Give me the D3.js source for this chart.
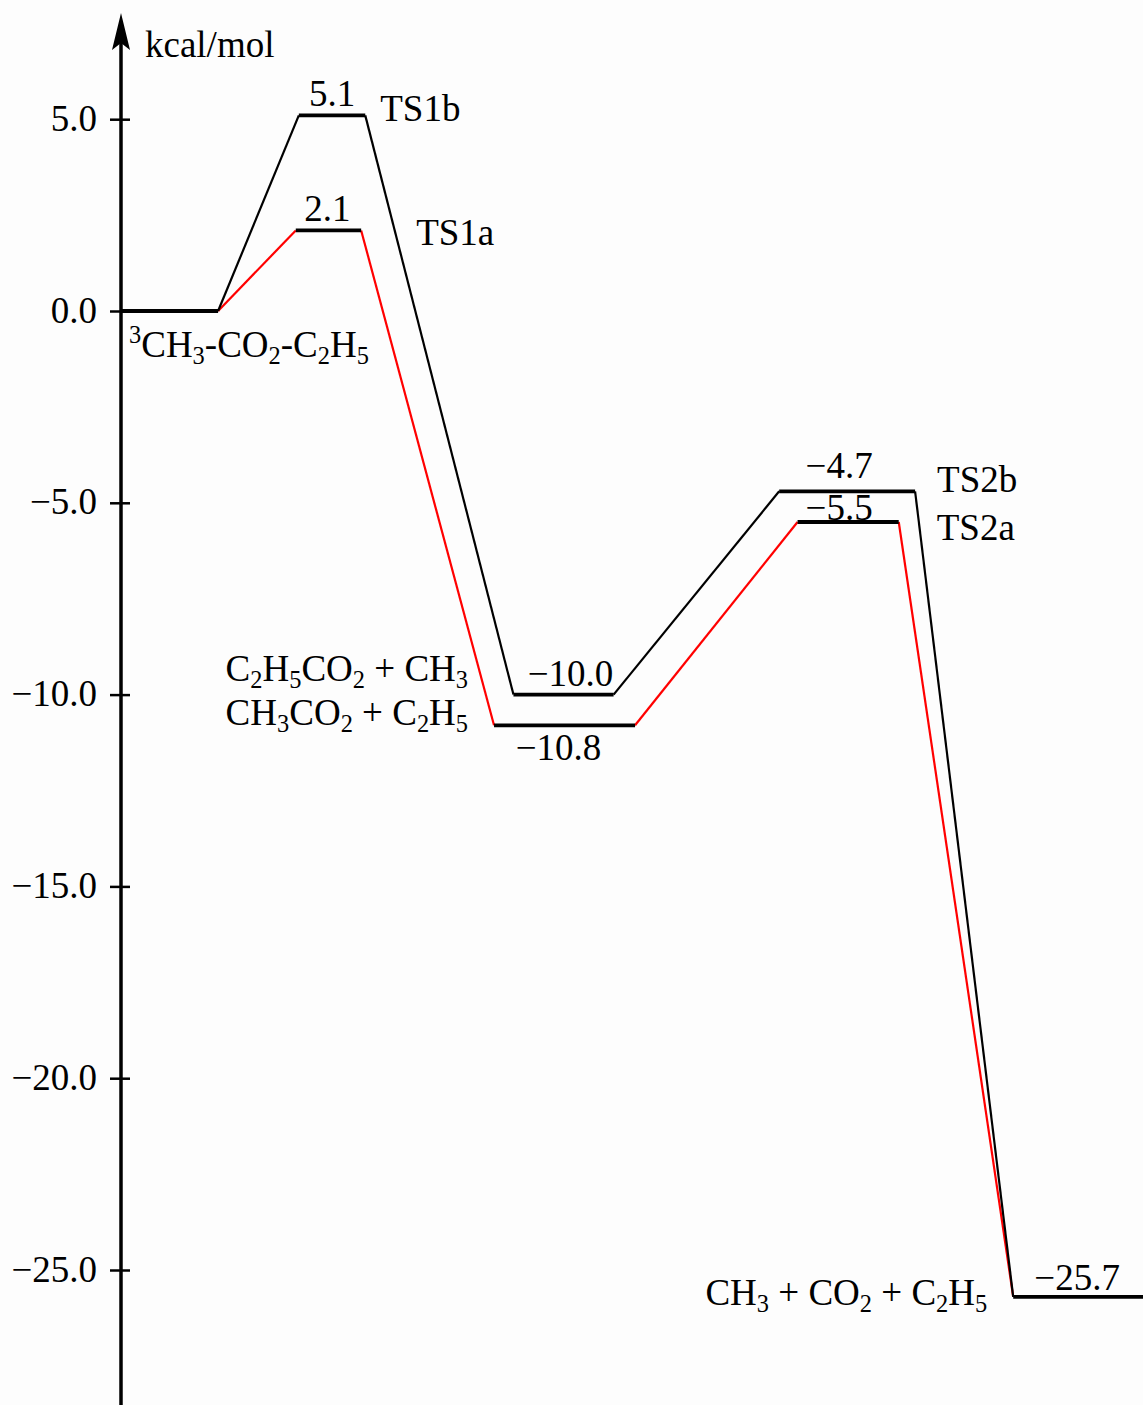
<!DOCTYPE html>
<html>
<head>
<meta charset="utf-8">
<script src="https://cdn.jsdelivr.net/npm/d3@7"></script>
<style>
  html, body { margin: 0; padding: 0; background: #fdfdfd; }
  svg { display: block; }
  text { font-family: "Liberation Serif", "Times New Roman", serif; fill: #000; }
</style>
</head>
<body>
<svg id="chart" width="1143" height="1405"></svg>
<script>
// Relative energies (kcal/mol) of the stationary points along each pathway
const stageNames = ["reactant", "TS1", "intermediate", "TS2", "products"];
const pathAEnergy = [0.0, 2.1, -10.8, -5.5, -25.7];
const pathBEnergy = [0.0, 5.1, -10.0, -4.7, -25.7];

// Horizontal extent of each level along the reaction coordinate (0–100)
const pathAStart = [0, 17.1, 36.5, 66.2, 87.3];
const pathAEnd   = [9.5, 23.5, 50.3, 76.1, 100];
const pathBStart = [0, 17.4, 38.4, 64.4, 87.3];
const pathBEnd   = [9.5, 23.9, 48.2, 77.7, 100];

// Energy axis ticks
const yTicks = [5, 0, -5, -10, -15, -20, -25];
const yUnit = "kcal/mol";

// Species and transition-state names (_ = subscript, ^ = superscript)
const reactantLabel = "^3CH_3-CO_2-C_2H_5";
const intermediateLabelB = "C_2H_5CO_2 + CH_3";
const intermediateLabelA = "CH_3CO_2 + C_2H_5";
const productLabel = "CH_3 + CO_2 + C_2H_5";
const tsLabelsA = ["TS1a", "TS2a"];
const tsLabelsB = ["TS1b", "TS2b"];

const svg = d3.select("#chart");
const FS = 37;

const y = d3.scaleLinear().domain([0, -25]).range([311, 1270]);
const x = d3.scaleLinear().domain([0, 100]).range([121, 1143]);
const fmt = d3.format(".1f");

// Writes chemical formula text with sub/superscripts as tspans
function formula(textSel, str) {
  let shift = 0;
  let i = 0;
  let buf = "";
  const flush = () => {
    if (buf) { textSel.append("tspan").attr("dy", -shift).text(buf); shift = 0; buf = ""; }
  };
  while (i < str.length) {
    const c = str[i];
    if (c === "_" || c === "^") {
      flush();
      const d = c === "_" ? 7 : -14;
      textSel.append("tspan")
        .attr("dy", d - shift)
        .attr("font-size", FS * 0.66)
        .text(str[i + 1]);
      shift = d;
      i += 2;
    } else {
      buf += c;
      i += 1;
    }
  }
  flush();
}

// Axis
const axis = d3.axisLeft(y).tickValues(yTicks).tickFormat(fmt).tickSize(0);
const gAxis = svg.append("g").attr("transform", `translate(${x(0)},0)`).call(axis);
gAxis.select(".domain").remove();
gAxis.selectAll(".tick line")
  .attr("x1", -11).attr("x2", 9)
  .attr("stroke", "#000").attr("stroke-width", 2.5);
gAxis.selectAll(".tick text")
  .attr("x", -24)
  .attr("dy", "0.3em")
  .attr("font-size", FS)
  .attr("font-family", "Liberation Serif, serif")
  .attr("fill", "#000");

svg.append("line")
  .attr("x1", x(0)).attr("x2", x(0))
  .attr("y1", 1405).attr("y2", 40)
  .attr("stroke", "#000").attr("stroke-width", 3.5);
svg.append("path")
  .attr("d", d3.line()([[x(0), 13], [x(0) + 9, 50], [x(0), 43], [x(0) - 9, 50]]) + "Z")
  .attr("fill", "#000");

svg.append("text")
  .attr("x", x(0) + 24).attr("y", 57)
  .attr("font-size", FS)
  .text(yUnit);

// Build the level and connector geometry for one pathway
function pathway(energy, start, end) {
  return energy.map((e, i) => ({ name: stageNames[i], e, x0: start[i], x1: end[i] }));
}
const levelsA = pathway(pathAEnergy, pathAStart, pathAEnd);
const levelsB = pathway(pathBEnergy, pathBStart, pathBEnd);

function connectors(levels) {
  return d3.pairs(levels).map(([a, b]) => [[x(a.x1), y(a.e)], [x(b.x0), y(b.e)]]);
}

const line = d3.line();
svg.append("g").selectAll("path").data(connectors(levelsA)).join("path")
  .attr("d", line).attr("fill", "none")
  .attr("stroke", "#ff0000").attr("stroke-width", 2.2);
svg.append("g").selectAll("path").data(connectors(levelsB)).join("path")
  .attr("d", line).attr("fill", "none")
  .attr("stroke", "#000").attr("stroke-width", 2.2);

const allLevels = levelsA.concat(levelsB.slice(1, 4));
svg.append("g").selectAll("line").data(allLevels).join("line")
  .attr("x1", d => x(d.x0)).attr("x2", d => x(d.x1))
  .attr("y1", d => y(d.e)).attr("y2", d => y(d.e))
  .attr("stroke", "#000").attr("stroke-width", 3.8);

// Energy labels: [level, horizontal nudge, vertical offset from level]
const valueLabels = [
  [levelsB[1], 0, -9],
  [levelsA[1], -1, -9],
  [levelsB[2], 7, -9],
  [levelsA[2], -6, 35],
  [levelsB[3], -8, -13],
  [levelsA[3], -9, -2],
  [levelsA[4], -1, -7]
];
svg.append("g").selectAll("text").data(valueLabels).join("text")
  .attr("x", d => (x(d[0].x0) + x(d[0].x1)) / 2 + d[1])
  .attr("y", d => y(d[0].e) + d[2])
  .attr("text-anchor", "middle")
  .attr("font-size", FS)
  .text(d => fmt(d[0].e));

// Transition-state names to the right of each TS level
const tsText = [
  [tsLabelsB[0], levelsB[1], 15, 6],
  [tsLabelsA[0], levelsA[1], 55, 15],
  [tsLabelsB[1], levelsB[3], 22, 1],
  [tsLabelsA[1], levelsA[3], 38, 18]
];
svg.append("g").selectAll("text").data(tsText).join("text")
  .attr("x", d => x(d[1].x1) + d[2])
  .attr("y", d => y(d[1].e) + d[3])
  .attr("font-size", FS)
  .text(d => d[0]);

// Species names
const species = [
  [reactantLabel, x(levelsA[0].x0) + 8, y(levelsA[0].e) + 46, "start"],
  [intermediateLabelB, x(levelsA[2].x0) - 26, y(levelsB[2].e) - 14, "end"],
  [intermediateLabelA, x(levelsA[2].x0) - 26, y(levelsB[2].e) + 30, "end"],
  [productLabel, x(levelsA[4].x0) - 26, y(levelsA[4].e) + 8, "end"]
];
species.forEach(([label, px, py, anchor]) => {
  const t = svg.append("text")
    .attr("x", px).attr("y", py)
    .attr("text-anchor", anchor)
    .attr("font-size", FS);
  formula(t, label);
});
</script>
</body>
</html>
